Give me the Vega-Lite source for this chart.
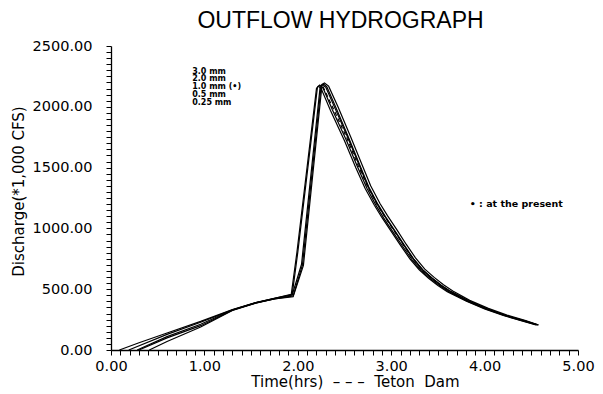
{
  "$schema": "https://vega.github.io/schema/vega-lite/v6.json",
  "width": 467,
  "height": 304,
  "autosize": {"type": "none"},
  "padding": {"left": 111, "top": 46, "right": 25, "bottom": 44},
  "background": "white",
  "title": {"text": "OUTFLOW HYDROGRAPH", "fontSize": 23, "font": "Liberation Sans", "fontWeight": "normal", "color": "black", "anchor": "middle", "dx": -4, "offset": -18, "baseline": "bottom"},
  "config": {
    "view": {"stroke": null},
    "axis": {"grid": false, "domainColor": "black", "tickColor": "black", "labelColor": "black", "titleColor": "black", "labelFont": "DejaVu Sans", "titleFont": "DejaVu Sans", "labelFontSize": 14.5, "titleFontSize": 15, "titleFontWeight": "normal", "tickSize": 5, "domainWidth": 1.3, "tickWidth": 1, "labelOverlap": false, "labelFlush": false, "labelBound": false}
  },
  "datasets": {
    "curves": [
      {"s": "3.0 mm", "t": 0.09, "q": 0}, {"s": "3.0 mm", "t": 0.3, "q": 60}, {"s": "3.0 mm", "t": 0.6, "q": 140}, {"s": "3.0 mm", "t": 0.96, "q": 235}, {"s": "3.0 mm", "t": 1.3, "q": 332}, {"s": "3.0 mm", "t": 1.55, "q": 390}, {"s": "3.0 mm", "t": 1.75, "q": 425}, {"s": "3.0 mm", "t": 1.93, "q": 458}, {"s": "3.0 mm", "t": 1.99, "q": 800}, {"s": "3.0 mm", "t": 2.2, "q": 2150}, {"s": "3.0 mm", "t": 2.22, "q": 2170}, {"s": "3.0 mm", "t": 2.25, "q": 2150}, {"s": "3.0 mm", "t": 2.35, "q": 1970}, {"s": "3.0 mm", "t": 2.5, "q": 1720}, {"s": "3.0 mm", "t": 2.62, "q": 1500}, {"s": "3.0 mm", "t": 2.72, "q": 1330}, {"s": "3.0 mm", "t": 2.82, "q": 1190}, {"s": "3.0 mm", "t": 2.9, "q": 1090}, {"s": "3.0 mm", "t": 3.0, "q": 975}, {"s": "3.0 mm", "t": 3.1, "q": 860}, {"s": "3.0 mm", "t": 3.2, "q": 750}, {"s": "3.0 mm", "t": 3.3, "q": 660}, {"s": "3.0 mm", "t": 3.4, "q": 590}, {"s": "3.0 mm", "t": 3.5, "q": 530}, {"s": "3.0 mm", "t": 3.6, "q": 480}, {"s": "3.0 mm", "t": 3.8, "q": 403}, {"s": "3.0 mm", "t": 4.0, "q": 338}, {"s": "3.0 mm", "t": 4.2, "q": 284}, {"s": "3.0 mm", "t": 4.4, "q": 240}, {"s": "3.0 mm", "t": 4.55, "q": 207},
      {"s": "2.0 mm", "t": 0.19, "q": 0}, {"s": "2.0 mm", "t": 0.6, "q": 128}, {"s": "2.0 mm", "t": 0.96, "q": 228}, {"s": "2.0 mm", "t": 1.3, "q": 330}, {"s": "2.0 mm", "t": 1.55, "q": 389}, {"s": "2.0 mm", "t": 1.75, "q": 424}, {"s": "2.0 mm", "t": 1.94, "q": 456}, {"s": "2.0 mm", "t": 2.0, "q": 805}, {"s": "2.0 mm", "t": 2.21, "q": 2160}, {"s": "2.0 mm", "t": 2.235, "q": 2178}, {"s": "2.0 mm", "t": 2.27, "q": 2155}, {"s": "2.0 mm", "t": 2.37, "q": 1975}, {"s": "2.0 mm", "t": 2.52, "q": 1725}, {"s": "2.0 mm", "t": 2.64, "q": 1505}, {"s": "2.0 mm", "t": 2.74, "q": 1330}, {"s": "2.0 mm", "t": 2.84, "q": 1185}, {"s": "2.0 mm", "t": 2.92, "q": 1085}, {"s": "2.0 mm", "t": 3.02, "q": 970}, {"s": "2.0 mm", "t": 3.12, "q": 855}, {"s": "2.0 mm", "t": 3.22, "q": 745}, {"s": "2.0 mm", "t": 3.32, "q": 655}, {"s": "2.0 mm", "t": 3.42, "q": 588}, {"s": "2.0 mm", "t": 3.52, "q": 528}, {"s": "2.0 mm", "t": 3.62, "q": 478}, {"s": "2.0 mm", "t": 3.82, "q": 400}, {"s": "2.0 mm", "t": 4.02, "q": 336}, {"s": "2.0 mm", "t": 4.22, "q": 282}, {"s": "2.0 mm", "t": 4.42, "q": 238}, {"s": "2.0 mm", "t": 4.56, "q": 206},
      {"s": "1.0 mm", "t": 0.28, "q": 0}, {"s": "1.0 mm", "t": 0.6, "q": 110}, {"s": "1.0 mm", "t": 0.96, "q": 212}, {"s": "1.0 mm", "t": 1.3, "q": 329}, {"s": "1.0 mm", "t": 1.55, "q": 388}, {"s": "1.0 mm", "t": 1.75, "q": 422}, {"s": "1.0 mm", "t": 1.94, "q": 452}, {"s": "1.0 mm", "t": 2.04, "q": 705}, {"s": "1.0 mm", "t": 2.24, "q": 2170}, {"s": "1.0 mm", "t": 2.26, "q": 2182}, {"s": "1.0 mm", "t": 2.3, "q": 2160}, {"s": "1.0 mm", "t": 2.4, "q": 1985}, {"s": "1.0 mm", "t": 2.54, "q": 1740}, {"s": "1.0 mm", "t": 2.66, "q": 1515}, {"s": "1.0 mm", "t": 2.75, "q": 1345}, {"s": "1.0 mm", "t": 2.85, "q": 1200}, {"s": "1.0 mm", "t": 2.93, "q": 1100}, {"s": "1.0 mm", "t": 3.03, "q": 985}, {"s": "1.0 mm", "t": 3.13, "q": 868}, {"s": "1.0 mm", "t": 3.23, "q": 755}, {"s": "1.0 mm", "t": 3.33, "q": 662}, {"s": "1.0 mm", "t": 3.43, "q": 594}, {"s": "1.0 mm", "t": 3.53, "q": 533}, {"s": "1.0 mm", "t": 3.63, "q": 484}, {"s": "1.0 mm", "t": 3.82, "q": 406}, {"s": "1.0 mm", "t": 4.02, "q": 340}, {"s": "1.0 mm", "t": 4.22, "q": 286}, {"s": "1.0 mm", "t": 4.42, "q": 241}, {"s": "1.0 mm", "t": 4.57, "q": 207},
      {"s": "0.5 mm", "t": 0.3, "q": 0}, {"s": "0.5 mm", "t": 0.6, "q": 100}, {"s": "0.5 mm", "t": 0.96, "q": 200}, {"s": "0.5 mm", "t": 1.3, "q": 327}, {"s": "0.5 mm", "t": 1.55, "q": 387}, {"s": "0.5 mm", "t": 1.75, "q": 421}, {"s": "0.5 mm", "t": 1.95, "q": 445}, {"s": "0.5 mm", "t": 2.05, "q": 700}, {"s": "0.5 mm", "t": 2.25, "q": 2175}, {"s": "0.5 mm", "t": 2.275, "q": 2188}, {"s": "0.5 mm", "t": 2.31, "q": 2165}, {"s": "0.5 mm", "t": 2.41, "q": 1990}, {"s": "0.5 mm", "t": 2.55, "q": 1735}, {"s": "0.5 mm", "t": 2.67, "q": 1510}, {"s": "0.5 mm", "t": 2.76, "q": 1340}, {"s": "0.5 mm", "t": 2.86, "q": 1195}, {"s": "0.5 mm", "t": 2.94, "q": 1095}, {"s": "0.5 mm", "t": 3.04, "q": 980}, {"s": "0.5 mm", "t": 3.14, "q": 862}, {"s": "0.5 mm", "t": 3.24, "q": 750}, {"s": "0.5 mm", "t": 3.34, "q": 658}, {"s": "0.5 mm", "t": 3.44, "q": 590}, {"s": "0.5 mm", "t": 3.54, "q": 530}, {"s": "0.5 mm", "t": 3.64, "q": 480}, {"s": "0.5 mm", "t": 3.83, "q": 402}, {"s": "0.5 mm", "t": 4.03, "q": 337}, {"s": "0.5 mm", "t": 4.23, "q": 283}, {"s": "0.5 mm", "t": 4.43, "q": 239}, {"s": "0.5 mm", "t": 4.57, "q": 206},
      {"s": "0.25 mm", "t": 0.41, "q": 0}, {"s": "0.25 mm", "t": 0.6, "q": 70}, {"s": "0.25 mm", "t": 0.96, "q": 189}, {"s": "0.25 mm", "t": 1.3, "q": 326}, {"s": "0.25 mm", "t": 1.55, "q": 386}, {"s": "0.25 mm", "t": 1.75, "q": 420}, {"s": "0.25 mm", "t": 1.95, "q": 438}, {"s": "0.25 mm", "t": 2.06, "q": 695}, {"s": "0.25 mm", "t": 2.26, "q": 2185}, {"s": "0.25 mm", "t": 2.285, "q": 2196}, {"s": "0.25 mm", "t": 2.33, "q": 2170}, {"s": "0.25 mm", "t": 2.43, "q": 2000}, {"s": "0.25 mm", "t": 2.57, "q": 1745}, {"s": "0.25 mm", "t": 2.69, "q": 1520}, {"s": "0.25 mm", "t": 2.78, "q": 1350}, {"s": "0.25 mm", "t": 2.88, "q": 1205}, {"s": "0.25 mm", "t": 2.96, "q": 1105}, {"s": "0.25 mm", "t": 3.06, "q": 990}, {"s": "0.25 mm", "t": 3.16, "q": 870}, {"s": "0.25 mm", "t": 3.26, "q": 758}, {"s": "0.25 mm", "t": 3.36, "q": 665}, {"s": "0.25 mm", "t": 3.46, "q": 597}, {"s": "0.25 mm", "t": 3.56, "q": 536}, {"s": "0.25 mm", "t": 3.66, "q": 486}, {"s": "0.25 mm", "t": 3.84, "q": 408}, {"s": "0.25 mm", "t": 4.04, "q": 342}, {"s": "0.25 mm", "t": 4.24, "q": 287}, {"s": "0.25 mm", "t": 4.44, "q": 242}, {"s": "0.25 mm", "t": 4.58, "q": 206}
    ],
    "teton": [
      {"t": 2.27, "q": 2165}, {"t": 2.38, "q": 1985}, {"t": 2.53, "q": 1735}, {"t": 2.65, "q": 1510}, {"t": 2.75, "q": 1340}, {"t": 2.85, "q": 1195}, {"t": 2.93, "q": 1098}, {"t": 3.03, "q": 982}, {"t": 3.13, "q": 865}, {"t": 3.23, "q": 752}, {"t": 3.33, "q": 660}, {"t": 3.43, "q": 592}, {"t": 3.53, "q": 531}, {"t": 3.63, "q": 482}
    ],
    "labels": [
      {"t": 0.87, "q": 2290, "label": "3.0  mm"},
      {"t": 0.87, "q": 2225, "label": "2.0  mm"},
      {"t": 0.87, "q": 2160, "label": "1.0  mm  (•)"},
      {"t": 0.87, "q": 2095, "label": "0.5  mm"},
      {"t": 0.87, "q": 2030, "label": "0.25  mm"}
    ],
    "note": [
      {"t": 3.84, "q": 1200, "label": "•  :  at  the  present"}
    ]
  },
  "encoding": {
    "x": {"field": "t", "type": "quantitative", "scale": {"domain": [0, 5], "nice": false, "zero": false},
      "axis": {"title": "Time(hrs)\u00a0\u00a0– – –\u00a0\u00a0Teton\u00a0\u00a0Dam", "values": [0,0.1,0.2,0.3,0.4,0.5,0.6,0.7,0.8,0.9,1,1.1,1.2,1.3,1.4,1.5,1.6,1.7,1.8,1.9,2,2.1,2.2,2.3,2.4,2.5,2.6,2.7,2.8,2.9,3,3.1,3.2,3.3,3.4,3.5,3.6,3.7,3.8,3.9,4,4.1,4.2,4.3,4.4,4.5,4.6,4.7,4.8,4.9,5],
        "labelExpr": "abs(datum.value - round(datum.value)) < 0.001 ? format(datum.value, '.2f') : ''", "labelPadding": 4, "titlePadding": 2, "titleX": 244, "titleAlign": "center"}},
    "y": {"field": "q", "type": "quantitative", "scale": {"domain": [0, 2500], "nice": false},
      "axis": {"title": "Discharge(*1,000 CFS)", "values": [0,50,100,150,200,250,300,350,400,450,500,550,600,650,700,750,800,850,900,950,1000,1050,1100,1150,1200,1250,1300,1350,1400,1450,1500,1550,1600,1650,1700,1750,1800,1850,1900,1950,2000,2050,2100,2150,2200,2250,2300,2350,2400,2450,2500],
        "labelExpr": "datum.value % 500 === 0 ? format(datum.value, '.2f') : ''", "labelPadding": 14, "titleX": -93, "titleY": 145, "titleAlign": "center", "titleBaseline": "middle", "titleAngle": -90}}
  },
  "layer": [
    {
      "data": {"name": "curves"},
      "mark": {"type": "line", "color": "black", "strokeWidth": 1.2},
      "encoding": {
        "detail": {"field": "s", "type": "nominal"},
        "order": {"field": "t", "type": "quantitative"}
      }
    },
    {
      "data": {"name": "teton"},
      "mark": {"type": "line", "color": "black", "strokeWidth": 1.2, "strokeDash": [4, 3]},
      "encoding": {}
    },
    {
      "data": {"name": "labels"},
      "mark": {"type": "text", "align": "left", "baseline": "middle", "font": "DejaVu Sans", "fontSize": 8, "fontWeight": "bold", "color": "black"},
      "encoding": {
        "text": {"field": "label", "type": "nominal"}
      }
    },
    {
      "data": {"name": "note"},
      "mark": {"type": "text", "align": "left", "baseline": "middle", "font": "DejaVu Sans", "fontSize": 9.5, "fontWeight": "bold", "color": "black"},
      "encoding": {
        "text": {"field": "label", "type": "nominal"}
      }
    }
  ]
}
